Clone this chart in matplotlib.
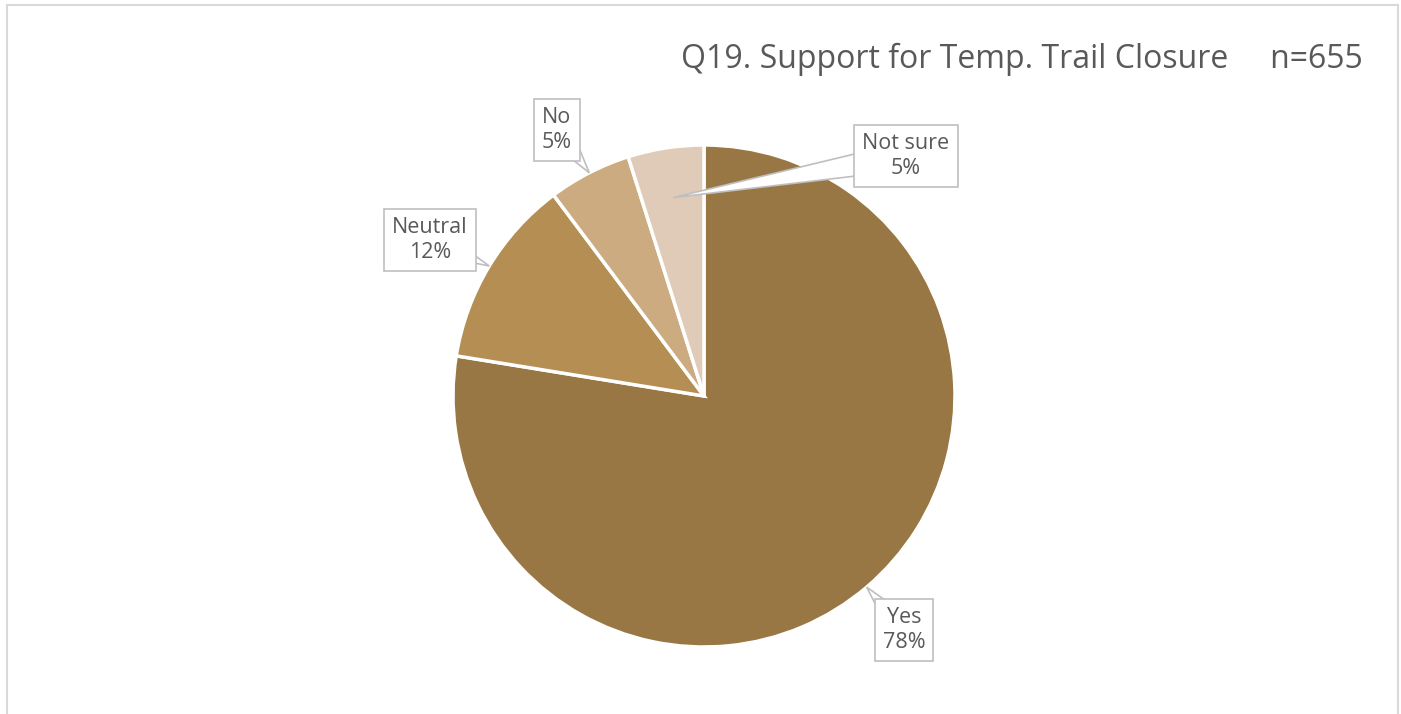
import matplotlib.pyplot as plt
import matplotlib.patches as patches
import numpy as np

categories = ['Yes', 'Neutral', 'No', 'Not sure']
counts = [508, 80, 35, 32]
colors = ['#997744', '#B58E53', '#CDAB80', '#DFCBB7']
title = 'Q19. Support for Temp. Trail Closure'
n_label = 'n=655'

W, H = 1401, 714
CX, CY, R = 704, H - 396, 251
# label box centres (pixel coords, y from top) and where the pointer hits the slice
label_pos = [(904, 630), (430, 240), (557, 130), (906, 156)]
tip_frac = [1.0, 1.0, 1.0, 0.8]
CALLOUT_HALF = 14

plt.rcParams['font.family'] = ['Open Sans', 'DejaVu Sans']

fig = plt.figure(figsize=(W / 100, H / 100), dpi=100)
ax = fig.add_axes([0, 0, 1, 1])

ax.pie(counts, colors=colors, startangle=90, counterclock=False,
       center=(CX, CY), radius=R, frame=True,
       wedgeprops=dict(edgecolor='white', linewidth=2.5))
ax.set_xlim(0, W)
ax.set_ylim(0, H)
ax.set_aspect('equal')
ax.axis('off')

# chart border
ax.add_patch(patches.Rectangle((7, -20), W - 10, H - 5 + 20, fill=False,
                               edgecolor='#D9D9D9', linewidth=1.5))

total = sum(counts)
start = 0.0
for cat, c, (lx, ly), tf in zip(categories, counts, label_pos, tip_frac):
    frac = c / total
    mid = (start + frac / 2) * 2 * np.pi
    start += frac
    tip = np.array([CX + tf * R * np.sin(mid), CY + tf * R * np.cos(mid)])
    base = np.array([lx, H - ly], dtype=float)
    d = tip - base
    perp = np.array([-d[1], d[0]]) / np.hypot(*d) * CALLOUT_HALF
    # callout triangle, its base hidden under the label box
    ax.add_patch(patches.Polygon([base + perp, base - perp, tip], closed=True,
                                 fc='white', ec='#BFBFBF', lw=1.2, zorder=3))
    ax.text(base[0], base[1], f'{cat}\n{round(frac * 100)}%',
            ha='center', va='center', fontsize=15.5, color='#595959',
            linespacing=1.25, zorder=4,
            bbox=dict(boxstyle='square,pad=0.38', fc='white',
                      ec='#BFBFBF', lw=1.2))

ax.text(1363, H - 59, f'{title}     {n_label}', ha='right', va='center',
        fontsize=23, color='#595959')

fig.savefig('out.png', dpi=100)
